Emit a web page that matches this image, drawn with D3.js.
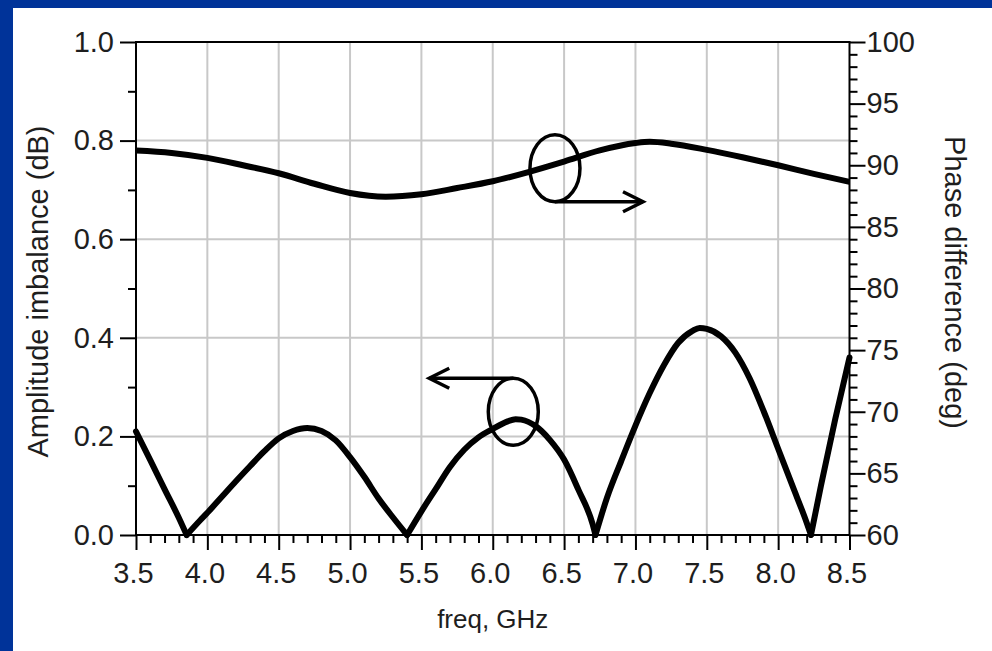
<!DOCTYPE html>
<html>
<head>
<meta charset="utf-8">
<script src="https://cdn.jsdelivr.net/npm/d3@7"></script>
<style>
  body { margin: 0; background: #fff; }
  text { font-family: "Liberation Sans", Arial, sans-serif; fill: #1e1e1e; }
</style>
</head>
<body>
<div id="chart"></div>
<script>
// data
const ampFreq = [3.5, 3.6, 3.7, 3.8, 3.855, 3.95, 4.0, 4.1, 4.2, 4.3, 4.4, 4.5, 4.6, 4.7, 4.8, 4.9, 5.0, 5.1, 5.2, 5.3, 5.4,
  5.5, 5.6, 5.7, 5.8, 5.9, 6.0, 6.1, 6.16, 6.2, 6.3, 6.4, 6.5, 6.6, 6.7, 6.72,
  6.8, 6.9, 7.0, 7.1, 7.2, 7.3, 7.4, 7.45, 7.5, 7.6, 7.7, 7.8, 7.9, 8.0, 8.1, 8.2, 8.23, 8.3, 8.4, 8.5];
const ampValues = [0.21, 0.152, 0.093, 0.035, 0, 0.03, 0.045, 0.077, 0.109, 0.14, 0.17, 0.196, 0.211, 0.217, 0.211, 0.192, 0.158, 0.118, 0.074, 0.036, 0,
  0.048, 0.093, 0.138, 0.173, 0.198, 0.215, 0.23, 0.235, 0.234, 0.221, 0.193, 0.153, 0.092, 0.022, 0,
  0.075, 0.15, 0.222, 0.288, 0.345, 0.39, 0.414, 0.42, 0.418, 0.403, 0.37, 0.318, 0.25, 0.175, 0.1, 0.025, 0, 0.1, 0.235, 0.36];

const phaseFreq = [3.5, 3.75, 4.0, 4.25, 4.5, 4.75, 5.0, 5.25, 5.5, 5.75, 6.0, 6.25, 6.5, 6.75, 7.0, 7.1, 7.25, 7.5, 7.75, 8.0, 8.25, 8.5];
const phaseValues = [91.2, 91.0, 90.6, 90.0, 89.35, 88.5, 87.75, 87.45, 87.65, 88.15, 88.7, 89.45, 90.3, 91.2, 91.8, 91.9, 91.75, 91.25, 90.65, 90.0, 89.3, 88.65];

const xTicks = [3.5, 4.0, 4.5, 5.0, 5.5, 6.0, 6.5, 7.0, 7.5, 8.0, 8.5];
const leftTicks = [0.0, 0.2, 0.4, 0.6, 0.8, 1.0];
const rightTicks = [60, 65, 70, 75, 80, 85, 90, 95, 100];

const W = 992, H = 651;
const plot = {left: 136, right: 849.5, top: 42, bottom: 535};

const svg = d3.select("#chart").append("svg")
    .attr("width", W)
    .attr("height", H);

// blue slide border
svg.append("rect").attr("width", W).attr("height", H).attr("fill", "#003399");
svg.append("rect").attr("x", 13).attr("y", 8).attr("width", W - 13).attr("height", H - 8).attr("fill", "#fff");

const x = d3.scaleLinear().domain([3.5, 8.5]).range([plot.left, plot.right]);
const yL = d3.scaleLinear().domain([0, 1]).range([plot.bottom, plot.top]);
const yR = d3.scaleLinear().domain([60, 100]).range([plot.bottom, plot.top]);

// grid
const grid = svg.append("g").attr("stroke", "#c8c8c8").attr("stroke-width", 2);
grid.selectAll(".gx").data(xTicks.slice(1, -1)).enter().append("line")
    .attr("x1", d => x(d)).attr("x2", d => x(d))
    .attr("y1", plot.top).attr("y2", plot.bottom);
grid.selectAll(".gy").data(leftTicks.slice(1, -1)).enter().append("line")
    .attr("x1", plot.left).attr("x2", plot.right)
    .attr("y1", d => yL(d)).attr("y2", d => yL(d));

// minor tick values
const xMinor = d3.range(35, 86).map(d => d / 10).filter(d => !xTicks.some(t => Math.abs(t - d) < 1e-6));
const leftMinor = d3.range(1, 10, 2).map(d => d / 10);
const rightMinor = d3.range(61, 100).filter(d => d % 5 !== 0);

function styleAxis(g) {
  g.select(".domain").remove();
  g.selectAll("line").attr("stroke", "#000").attr("stroke-width", 2);
  g.selectAll("text").style("font-size", "29px").attr("fill", "#1e1e1e");
}

svg.append("g").attr("transform", `translate(0,${plot.bottom})`)
    .call(d3.axisBottom(x).tickValues(xTicks).tickSize(15).tickPadding(12).tickFormat(d3.format(".1f")))
    .call(styleAxis)
    .call(g => g.selectAll("text").attr("dx", "-3"));
svg.append("g").attr("transform", `translate(0,${plot.bottom})`)
    .call(d3.axisBottom(x).tickValues(xMinor).tickSize(8).tickFormat(""))
    .call(styleAxis);

svg.append("g").attr("transform", `translate(${plot.left},0)`)
    .call(d3.axisLeft(yL).tickValues(leftTicks).tickSize(16).tickPadding(6).tickFormat(d3.format(".1f")))
    .call(styleAxis);
svg.append("g").attr("transform", `translate(${plot.left},0)`)
    .call(d3.axisLeft(yL).tickValues(leftMinor).tickSize(8).tickFormat(""))
    .call(styleAxis);

svg.append("g").attr("transform", `translate(${plot.right},0)`)
    .call(d3.axisRight(yR).tickValues(rightTicks).tickSize(16).tickPadding(1))
    .call(styleAxis);
svg.append("g").attr("transform", `translate(${plot.right},0)`)
    .call(d3.axisRight(yR).tickValues(rightMinor).tickSize(8).tickFormat(""))
    .call(styleAxis);

// frame
svg.append("rect")
    .attr("x", plot.left).attr("y", plot.top)
    .attr("width", plot.right - plot.left).attr("height", plot.bottom - plot.top)
    .attr("fill", "none").attr("stroke", "#000").attr("stroke-width", 2);

// axis titles
svg.append("text")
    .attr("transform", `translate(48,${(plot.top + plot.bottom) / 2 + 3}) rotate(-90)`)
    .attr("text-anchor", "middle")
    .style("font-size", "29px")
    .text("Amplitude imbalance (dB)");
svg.append("text")
    .attr("transform", `translate(945,${(plot.top + plot.bottom) / 2 - 6}) rotate(90)`)
    .attr("text-anchor", "middle")
    .style("font-size", "29px")
    .text("Phase difference (deg)");
svg.append("text")
    .attr("x", (plot.left + plot.right) / 2)
    .attr("y", 628)
    .attr("text-anchor", "middle")
    .style("font-size", "26px")
    .text("freq, GHz");

// curves
const amp = ampFreq.map((f, i) => ({f: f, v: ampValues[i]}));
const phase = phaseFreq.map((f, i) => ({f: f, v: phaseValues[i]}));

// split amplitude into lobes so the nulls keep their sharp V
const lobes = [];
let cur = [];
amp.forEach(d => {
  cur.push(d);
  if (d.v === 0 && cur.length > 1) { lobes.push(cur); cur = [d]; }
});
if (cur.length > 1) lobes.push(cur);

const ampLine = d3.line().x(d => x(d.f)).y(d => yL(d.v)).curve(d3.curveMonotoneX);
svg.append("g").selectAll("path").data(lobes).enter().append("path")
    .attr("d", ampLine)
    .attr("fill", "none").attr("stroke", "#000").attr("stroke-width", 6)
    .attr("stroke-linecap", "round").attr("stroke-linejoin", "round");

const phaseLine = d3.line().x(d => x(d.f)).y(d => yR(d.v)).curve(d3.curveMonotoneX);
svg.append("path").datum(phase)
    .attr("d", phaseLine)
    .attr("fill", "none").attr("stroke", "#000").attr("stroke-width", 6)
    .attr("stroke-linecap", "butt");

// annotations: ellipse + arrow pointing to the axis each curve belongs to
const ann = svg.append("g").attr("fill", "none").attr("stroke", "#000").attr("stroke-width", 3.5);

function marker(cf, cv, tipF, side) {
  const cx = x(cf), cy = yL(cv), rx = 25, ry = 33.5;
  ann.append("ellipse").attr("cx", cx).attr("cy", cy).attr("rx", rx).attr("ry", ry);
  const ay = side > 0 ? cy + ry : cy - ry;
  const tx = x(tipF);
  ann.append("line").attr("x1", cx).attr("y1", ay).attr("x2", tx).attr("y2", ay);
  ann.append("polyline")
      .attr("points", [[tx - side * 20, ay - 10], [tx, ay], [tx - side * 20, ay + 10]].map(p => p.join(",")).join(" "))
      .attr("stroke-linejoin", "miter");
}
marker(6.436, 0.744, 7.053, 1);
marker(6.144, 0.25, 5.555, -1);
</script>
</body>
</html>
